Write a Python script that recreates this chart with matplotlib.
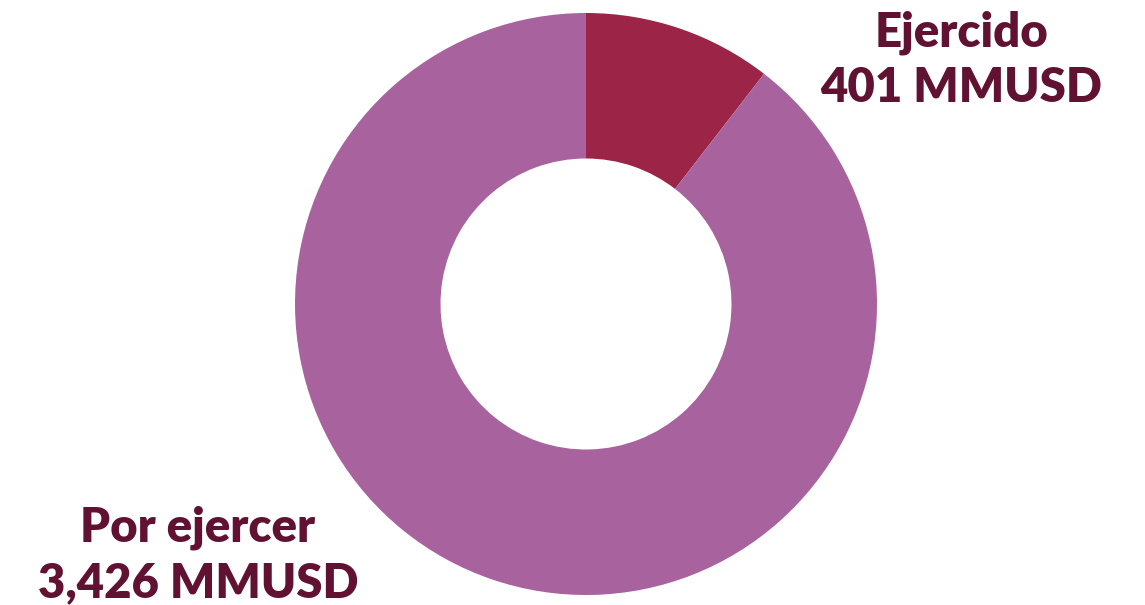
import matplotlib.pyplot as plt

# datos
etiquetas = ['Ejercido', 'Por ejercer']
valores = [401, 3426]
colores = ['#9B2447', '#A8639E']
color_texto = '#611232'

W, H = 1145, 605
fig = plt.figure(figsize=(W / 100, H / 100), dpi=100)

# centro y radio de la dona en pixeles
cx, cy, r = 586, 304, 291
ax = fig.add_axes([(cx - r) / W, (H - cy - r) / H, 2 * r / W, 2 * r / H])
ax.pie(valores, colors=colores, startangle=90, counterclock=False,
       radius=1, wedgeprops=dict(width=0.5, edgecolor='none'))
ax.set_xlim(-1, 1)
ax.set_ylim(-1, 1)
ax.set_aspect('equal')
ax.axis('off')

fuente = dict(family=['Lato', 'DejaVu Sans'], fontweight='heavy',
              fontsize=34, color=color_texto, ha='center', va='center')

fig.text(961 / W, 1 - 33 / H, etiquetas[0], **fuente)
fig.text(961 / W, 1 - 88 / H, f'{valores[0]:,} MMUSD', **fuente)
fig.text(198 / W, 1 - 528 / H, etiquetas[1], **fuente)
fig.text(198 / W, 1 - 583 / H, f'{valores[1]:,} MMUSD', **fuente)

fig.savefig('out.png', dpi=100, facecolor='white')
